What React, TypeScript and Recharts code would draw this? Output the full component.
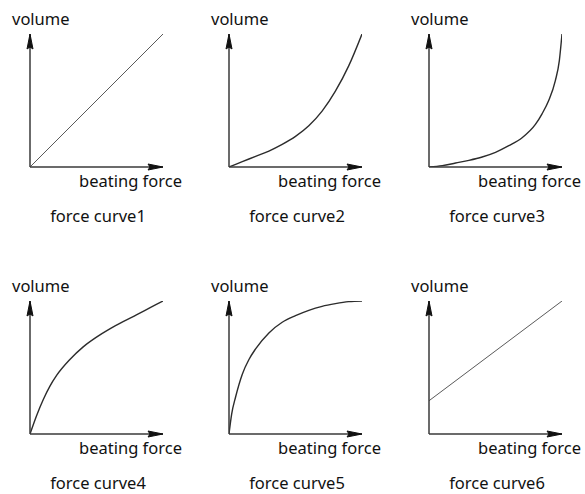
import React from "react";
import { LineChart, Line, XAxis, YAxis, ReferenceDot } from "recharts";

// Normalised beating force (x) and resulting volume (y) for each curve shape.
const forceCurve1 = [
  { x: 0, y: 0 },
  { x: 1, y: 1 },
];

const forceCurve2 = [
  { x: 0, y: 0 },
  { x: 0.1, y: 0.04 },
  { x: 0.2, y: 0.08 },
  { x: 0.3, y: 0.12 },
  { x: 0.4, y: 0.17 },
  { x: 0.5, y: 0.23 },
  { x: 0.6, y: 0.31 },
  { x: 0.7, y: 0.42 },
  { x: 0.8, y: 0.57 },
  { x: 0.9, y: 0.76 },
  { x: 1, y: 1 },
];

const forceCurve3 = [
  { x: 0, y: 0 },
  { x: 0.1, y: 0.01 },
  { x: 0.2, y: 0.03 },
  { x: 0.3, y: 0.05 },
  { x: 0.4, y: 0.075 },
  { x: 0.5, y: 0.11 },
  { x: 0.6, y: 0.16 },
  { x: 0.7, y: 0.22 },
  { x: 0.8, y: 0.32 },
  { x: 0.85, y: 0.4 },
  { x: 0.9, y: 0.5 },
  { x: 0.95, y: 0.65 },
  { x: 0.98, y: 0.8 },
  { x: 1, y: 1 },
];

const forceCurve4 = [
  { x: 0, y: 0 },
  { x: 0.05, y: 0.14 },
  { x: 0.1, y: 0.26 },
  { x: 0.15, y: 0.36 },
  { x: 0.2, y: 0.44 },
  { x: 0.3, y: 0.56 },
  { x: 0.4, y: 0.655 },
  { x: 0.5, y: 0.728 },
  { x: 0.6, y: 0.79 },
  { x: 0.7, y: 0.845 },
  { x: 0.8, y: 0.896 },
  { x: 0.9, y: 0.948 },
  { x: 1, y: 1 },
];

const forceCurve5 = [
  { x: 0, y: 0 },
  { x: 0.02, y: 0.15 },
  { x: 0.05, y: 0.28 },
  { x: 0.1, y: 0.45 },
  { x: 0.15, y: 0.56 },
  { x: 0.2, y: 0.64 },
  { x: 0.3, y: 0.76 },
  { x: 0.4, y: 0.84 },
  { x: 0.5, y: 0.89 },
  { x: 0.6, y: 0.93 },
  { x: 0.7, y: 0.96 },
  { x: 0.8, y: 0.98 },
  { x: 0.9, y: 0.995 },
  { x: 1, y: 1 },
];

const forceCurve6 = [
  { x: 0, y: 0.25 },
  { x: 1, y: 1 },
];

const captions = [
  "force curve1",
  "force curve2",
  "force curve3",
  "force curve4",
  "force curve5",
  "force curve6",
];

const yAxisTitle = "volume";
const xAxisTitle = "beating force";

const FONT = "'Noto Sans', 'Open Sans', sans-serif";
const FONT_SIZE = 16.5;
const TEXT = "#111";
const AXIS = "#3a3a3a";

const PLOT = 133;
const CHART_W = 200;
const CHART_H = 262;
const TOP = 34;
const LEFT = 30;
const X_AXIS_H = 1;

type Panel = {
  data: { x: number; y: number }[];
  caption: string;
  left: number;
  top: number;
  curved: boolean;
};

const panels: Panel[] = [
  { data: forceCurve1, caption: captions[0], left: 0, top: 0, curved: false },
  { data: forceCurve2, caption: captions[1], left: 199, top: 0, curved: true },
  { data: forceCurve3, caption: captions[2], left: 399, top: 0, curved: true },
  { data: forceCurve4, caption: captions[3], left: 0, top: 267, curved: true },
  { data: forceCurve5, caption: captions[4], left: 199, top: 267, curved: true },
  { data: forceCurve6, caption: captions[5], left: 399, top: 267, curved: false },
];

// Arrowhead at the top of the volume axis, with the axis title above it.
const YArrow = (props: any) => {
  const { cx, cy } = props;
  return (
    <g>
      <path
        d={`M${cx},${cy} L${cx - 3},${cy + 15} L${cx},${cy + 13} L${cx + 3},${cy + 15} Z`}
        fill="#111"
        stroke="#111"
        strokeWidth={1}
      />
      <text x={cx - 18} y={cy - 9} fontFamily={FONT} fontSize={FONT_SIZE} fill={TEXT}>
        {yAxisTitle}
      </text>
    </g>
  );
};

// Arrowhead at the end of the force axis, with the axis title below it.
const XArrow = (props: any) => {
  const { cx, cy } = props;
  return (
    <g>
      <path
        d={`M${cx},${cy} L${cx - 15},${cy - 3} L${cx - 13},${cy} L${cx - 15},${cy + 3} Z`}
        fill="#111"
        stroke="#111"
        strokeWidth={1}
      />
      <text
        x={cx + 19}
        y={cy + 20}
        textAnchor="end"
        fontFamily={FONT}
        fontSize={FONT_SIZE}
        fill={TEXT}
      >
        {xAxisTitle}
      </text>
    </g>
  );
};

// Caption centred under the plot area.
const Caption = (props: any) => {
  const { cx, cy, text } = props;
  return (
    <text
      x={cx + 68}
      y={cy + 55}
      textAnchor="middle"
      fontFamily={FONT}
      fontSize={FONT_SIZE}
      fill={TEXT}
    >
      {text}
    </text>
  );
};

const ForcePanel = ({ panel }: { panel: Panel }) => (
  <div style={{ position: "absolute", left: panel.left, top: panel.top }}>
    <LineChart
      width={CHART_W}
      height={CHART_H}
      data={panel.data}
      margin={{
        top: TOP,
        left: 0,
        right: CHART_W - LEFT - PLOT,
        bottom: CHART_H - TOP - PLOT - X_AXIS_H,
      }}
    >
      <XAxis
        type="number"
        dataKey="x"
        domain={[0, 1]}
        allowDataOverflow
        tick={false}
        tickLine={false}
        height={X_AXIS_H}
        axisLine={{ stroke: AXIS, strokeWidth: 1.5 }}
      />
      <YAxis
        type="number"
        domain={[0, 1]}
        allowDataOverflow
        tick={false}
        tickLine={false}
        width={LEFT}
        axisLine={{ stroke: AXIS, strokeWidth: 1.5 }}
      />
      <Line
        type={panel.curved ? "monotone" : "linear"}
        dataKey="y"
        stroke={panel.curved ? "#2c2c2c" : "#5a5a5a"}
        strokeWidth={panel.curved ? 1.4 : 1}
        dot={false}
        isAnimationActive={false}
      />
      <ReferenceDot x={0} y={1} ifOverflow="visible" shape={YArrow} />
      <ReferenceDot x={1} y={0} ifOverflow="visible" shape={XArrow} />
      <ReferenceDot
        x={0}
        y={0}
        ifOverflow="visible"
        shape={(p: any) => <Caption {...p} text={panel.caption} />}
      />
    </LineChart>
  </div>
);

export default function App() {
  return (
    <div
      style={{
        position: "absolute",
        left: 0,
        top: 0,
        width: 585,
        height: 494,
        overflow: "hidden",
        background: "#fff",
      }}
    >
      {panels.map((p) => (
        <ForcePanel key={p.caption} panel={p} />
      ))}
    </div>
  );
}
